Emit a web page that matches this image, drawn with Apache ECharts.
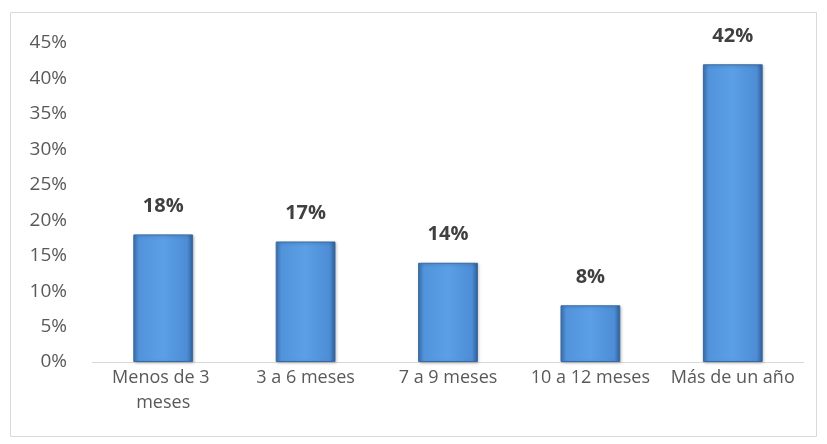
<!DOCTYPE html>
<html>
<head>
<meta charset="utf-8">
<script src="https://cdn.jsdelivr.net/npm/echarts@6/dist/echarts.min.js"></script>
<style>
  html, body { margin: 0; padding: 0; background: #fff; }
  #chart { width: 827px; height: 444px; }
</style>
</head>
<body>
<div id="chart"></div>
<script>
// Time ranges and share of responses in each
const categories = ['Menos de 3 meses', '3 a 6 meses', '7 a 9 meses', '10 a 12 meses', 'Más de un año'];
const values = [18, 17, 14, 8, 42];
const yTicks = [0, 5, 10, 15, 20, 25, 30, 35, 40, 45];

const chart = echarts.init(document.getElementById('chart'));

// Horizontal shading gives the bars a rounded, bevelled look
const barFill = new echarts.graphic.LinearGradient(0, 0, 1, 0, [
  { offset: 0, color: '#3f74b3' },
  { offset: 0.1, color: '#5294dc' },
  { offset: 0.5, color: '#5b9fe6' },
  { offset: 0.9, color: '#4d8dd6' },
  { offset: 1, color: '#2f5f96' }
]);

chart.setOption({
  animation: false,
  textStyle: { fontFamily: 'Open Sans' },
  graphic: [{
    type: 'rect',
    shape: { x: 10.5, y: 12.5, width: 806, height: 424 },
    style: { fill: 'none', stroke: '#d9d9d9', lineWidth: 1 },
    silent: true
  }],
  grid: { left: 92, right: 23, top: 43, bottom: 82 },
  xAxis: {
    type: 'category',
    data: categories,
    axisLine: { lineStyle: { color: '#d9d9d9', width: 1 } },
    axisTick: { show: false },
    axisLabel: {
      color: '#595959',
      fontSize: 18,
      margin: 3,
      lineHeight: 25,
      interval: 0,
      width: 150,
      overflow: 'break'
    }
  },
  yAxis: {
    type: 'value',
    min: 0,
    max: 45,
    interval: 5,
    splitLine: { show: false },
    axisLine: { show: false },
    axisTick: { show: false },
    axisLabel: {
      color: '#595959',
      fontSize: 19,
      margin: 25,
      formatter: v => yTicks.includes(v) ? v + '%' : ''
    }
  },
  series: [{
    type: 'bar',
    data: values,
    barWidth: '42%',
    itemStyle: {
      color: barFill,
      borderColor: '#3a6aa3',
      borderWidth: 1,
      shadowColor: 'rgba(0,0,0,0.25)',
      shadowBlur: 3,
      shadowOffsetX: 1,
      shadowOffsetY: 1
    },
    label: {
      show: true,
      position: 'top',
      distance: 18,
      formatter: p => p.value + '%',
      color: '#404040',
      fontSize: 20,
      fontWeight: 'bold'
    }
  }]
});
</script>
</body>
</html>
